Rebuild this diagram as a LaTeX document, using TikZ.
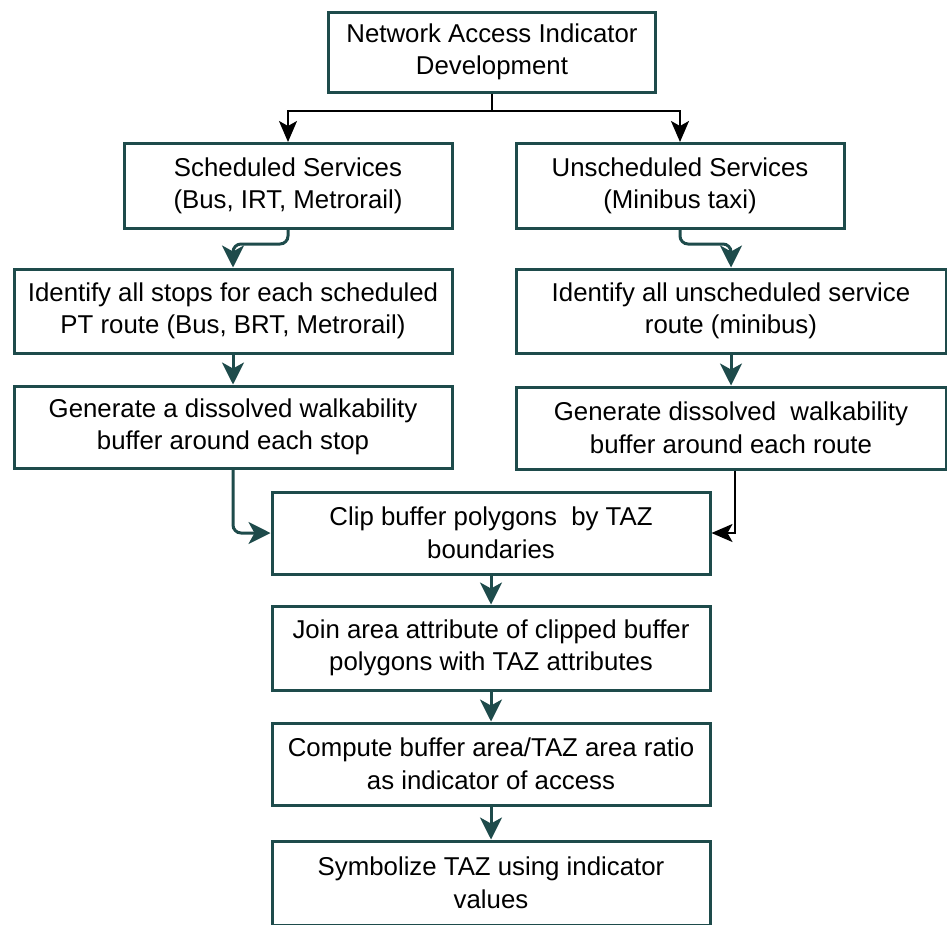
\documentclass[tikz,border=0pt]{standalone}
\usepackage{fontspec}
\setmainfont{Liberation Sans}
\usetikzlibrary{arrows.meta}
\definecolor{boxteal}{HTML}{1E4B4B}
\begin{document}
\begin{tikzpicture}[x=1pt,y=-1pt,
  box/.style={draw=boxteal, line width=3pt, fill=white, align=center,
    inner sep=0pt, font=\fontsize{25.8}{32.5}\selectfont},
  tealflow/.style={draw=boxteal, line width=3pt, rounded corners=8pt,
    -{Stealth[length=22pt,width=22pt,inset=6pt]}},
  blackflow/.style={draw=black, line width=2pt,
    -{Stealth[length=21pt,width=18pt,inset=5pt]}}]
\useasboundingbox (0,0) rectangle (947,924);

% process boxes
\node[box, minimum width=327pt, minimum height=80pt] (top) at (492,52)
  {Network Access Indicator\\Development};
\node[box, minimum width=328pt, minimum height=85pt] (sch) at (288,186)
  {Scheduled Services\\(Bus, IRT, Metrorail)};
\node[box, minimum width=328pt, minimum height=85pt] (uns) at (680,186)
  {Unscheduled Services\\(Minibus taxi)};
\node[box, minimum width=438pt, minimum height=84pt] (idl) at (233,311)
  {Identify all stops for each scheduled\\PT route (Bus, BRT, Metrorail)};
\node[box, minimum width=430pt, minimum height=84pt] (idr) at (731,311)
  {Identify all unscheduled service\\route (minibus)};
\node[box, minimum width=438pt, minimum height=82pt] (gel) at (233,427)
  {Generate a dissolved walkability\\buffer around each stop};
\node[box, minimum width=430pt, minimum height=82pt] (ger) at (731,428)
  {Generate dissolved\ \ walkability\\buffer around each route};
\node[box, minimum width=438pt, minimum height=82pt] (clip) at (491,533)
  {Clip buffer polygons\ \ by TAZ\\boundaries};
\node[box, minimum width=438pt, minimum height=84pt] (join) at (491,648)
  {Join area attribute of clipped buffer\\polygons with TAZ attributes};
\node[box, minimum width=438pt, minimum height=82pt] (comp) at (491,764)
  {Compute buffer area/TAZ area ratio\\as indicator of access};
\node[box, minimum width=438pt, minimum height=84pt] (sym) at (491,883)
  {Symbolize TAZ using indicator\\values};

% connectors
\coordinate (split) at (492,111);
\draw[draw=black, line width=2pt] (top.south) -- (split);
\draw[blackflow] (split) -| (sch.north);
\draw[blackflow] (split) -| (uns.north);

\draw[tealflow] (sch.south) -- ++(0,14) -| (idl.north);
\draw[tealflow] (uns.south) -- ++(0,14) -| (idr.north);
\draw[tealflow] (idl.south) -- (gel.north);
\draw[tealflow] (idr.south) -- (ger.north);
\draw[tealflow] (gel.south) |- (clip.west);
\draw[blackflow] ([xshift=4pt]ger.south) |- (clip.east);
\draw[tealflow] (clip.south) -- (join.north);
\draw[tealflow] (join.south) -- (comp.north);
\draw[tealflow] (comp.south) -- (sym.north);
\end{tikzpicture}
\end{document}
